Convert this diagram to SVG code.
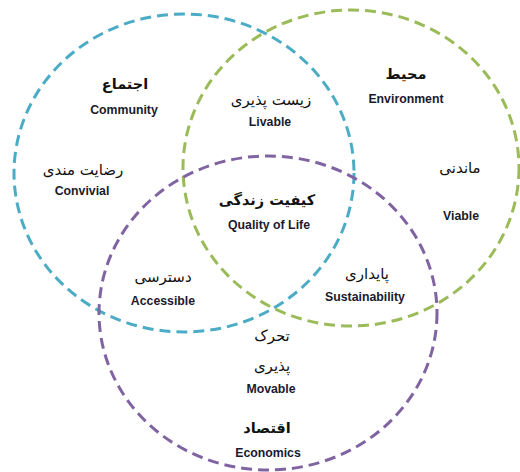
<svg xmlns="http://www.w3.org/2000/svg" width="520" height="472" viewBox="0 0 520 472">
<style>
.ring{fill:none;stroke-width:3;stroke-dasharray:11 6}
.fa{font-family:"DejaVu Sans","Noto Sans",sans-serif;font-size:15px;fill:#111;text-anchor:middle}
.fat{font-family:"DejaVu Sans","Noto Sans",sans-serif;font-size:14.5px;font-weight:bold;fill:#111;text-anchor:middle}
.en{font-family:"Liberation Sans",Arial,sans-serif;font-size:12.3px;font-weight:bold;fill:#1a1a2e;text-anchor:middle}
</style>
<rect width="520" height="472" fill="#fff"/>
<g id="community">
<ellipse class="ring" cx="184" cy="173" rx="170" ry="159" stroke="#4BACC6"/>
<text class="fat" x="125" y="89">اجتماع</text>
<text class="en" x="124" y="114">Community</text>
<text class="fa" x="83" y="175">رضایت مندی</text>
<text class="en" x="82" y="195">Convivial</text>
</g>
<g id="environment">
<ellipse class="ring" cx="351" cy="168" rx="168" ry="158" stroke="#9BBB59"/>
<text class="fat" x="406" y="79">محیط</text>
<text class="en" x="406" y="103">Environment</text>
<text class="fa" x="460" y="173">ماندنی</text>
<text class="en" x="461" y="220">Viable</text>
</g>
<g id="economics">
<ellipse class="ring" cx="268" cy="313" rx="169" ry="157" stroke="#8064A2"/>
<text class="fat" x="267" y="433">اقتصاد</text>
<text class="en" x="268" y="457">Economics</text>
</g>
<g id="livable">
<text class="fa" x="271" y="105">زیست پذیری</text>
<text class="en" x="270" y="126">Livable</text>
</g>
<g id="quality-of-life">
<text class="fat" x="267" y="205" style="font-size:14.5px">کیفیت زندگی</text>
<text class="en" x="269" y="229">Quality of Life</text>
</g>
<g id="accessible">
<text class="fa" x="163" y="282">دسترسی</text>
<text class="en" x="163" y="305">Accessible</text>
</g>
<g id="sustainability">
<text class="fa" x="367" y="279">پایداری</text>
<text class="en" x="365" y="301">Sustainability</text>
</g>
<g id="movable">
<text class="fa" x="272" y="341">تحرک</text>
<text class="fa" x="272" y="371">پذیری</text>
<text class="en" x="271" y="393">Movable</text>
</g>
<g id="connectors"></g>
</svg>
